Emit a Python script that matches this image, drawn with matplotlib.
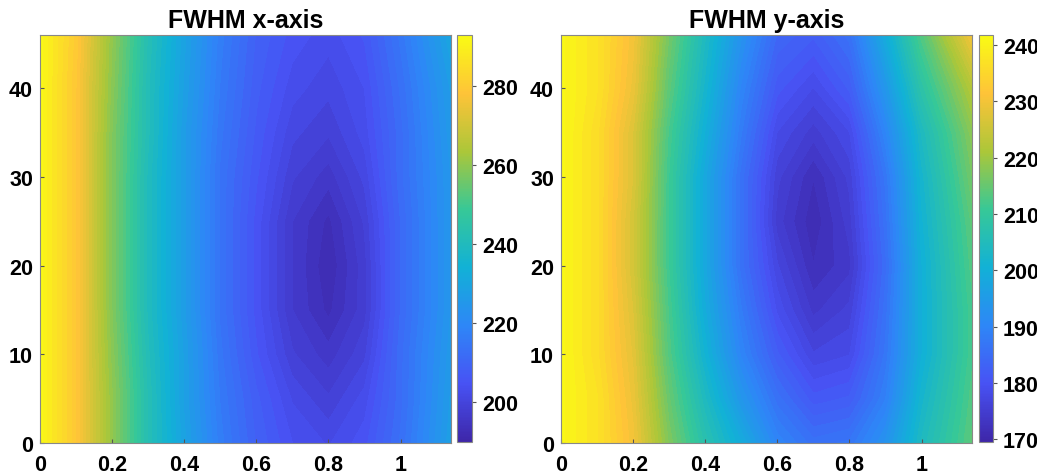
import matplotlib

matplotlib.use("Agg")

import matplotlib.pyplot as plt
import numpy as np
from matplotlib.cm import ScalarMappable
from matplotlib.colors import LinearSegmentedColormap, Normalize

# grid coordinates
x_pos = [0, 0.1, 0.2, 0.3, 0.4, 0.5, 0.6, 0.7, 0.8, 0.9, 1.0, 1.14]
y_pos = [0, 5, 10, 15, 20, 25, 30, 35, 40, 46]

# FWHM along x, one row per y position
fwhm_x = [
    [292, 279, 260, 242, 229, 217, 209, 204, 202, 205, 213, 228],
    [292, 279, 260, 242, 228, 216, 208, 202, 199, 203, 212, 227],
    [292, 279, 259, 241, 228, 215, 206, 199, 196, 200, 212, 226],
    [292, 279, 258, 240, 227, 214, 205, 197, 193, 198, 211, 225],
    [292, 279, 258, 240, 227, 214, 205, 197, 192, 198, 211, 225],
    [292, 279, 258, 240, 227, 214, 205, 197, 193, 199, 211, 225],
    [292, 279, 258, 240, 227, 214, 206, 199, 196, 201, 212, 225],
    [292, 279, 258, 241, 227, 215, 207, 201, 199, 203, 212, 226],
    [292, 279, 259, 241, 228, 216, 208, 203, 201, 204, 213, 227],
    [292, 280, 260, 242, 229, 217, 209, 205, 203, 206, 215, 230],
]

# FWHM along y
fwhm_y = [
    [241, 237, 230, 217, 207, 199, 190, 186, 187, 193, 204, 214],
    [241, 237, 229, 215, 204, 194, 186, 181, 182, 189, 202, 213],
    [241, 236, 228, 213, 201, 190, 182, 177, 178, 187, 200, 212],
    [241, 236, 227, 212, 199, 188, 179, 174, 176, 186, 200, 212],
    [241, 236, 226, 211, 198, 186, 177, 172, 174, 185, 200, 213],
    [241, 236, 226, 211, 198, 186, 175, 171, 175, 186, 201, 214],
    [241, 236, 227, 211, 198, 186, 176, 172, 176, 187, 202, 216],
    [241, 236, 227, 212, 200, 188, 178, 175, 178, 190, 204, 218],
    [241, 237, 229, 214, 202, 190, 181, 178, 182, 194, 208, 222],
    [241, 237, 230, 216, 204, 193, 184, 182, 186, 199, 213, 230],
]

x_clim = (190, 293)
y_clim = (169.5, 241.8)
x_cticks = [200, 220, 240, 260, 280]
y_cticks = [170, 180, 190, 200, 210, 220, 230, 240]

# MATLAB parula, approximated from 8 samples
parula = LinearSegmentedColormap.from_list("parula", [
    (0.2422, 0.1504, 0.6603),
    (0.2810, 0.3228, 0.9579),
    (0.1786, 0.5289, 0.9682),
    (0.0689, 0.6948, 0.8394),
    (0.2161, 0.7843, 0.5923),
    (0.6720, 0.7793, 0.2227),
    (0.9970, 0.7659, 0.2199),
    (0.9769, 0.9839, 0.0805),
])

plt.rcParams["font.family"] = "Liberation Sans"
plt.rcParams["font.weight"] = "bold"

fig = plt.figure(figsize=(10.37, 4.77), dpi=100)

panels = [
    ("FWHM x-axis", fwhm_x, x_clim, x_cticks, [0.0386, 0.0692, 0.3963, 0.8553], [0.4407, 0.0713, 0.0145, 0.8532]),
    ("FWHM y-axis", fwhm_y, y_clim, y_cticks, [0.5410, 0.0692, 0.3963, 0.8553], [0.9441, 0.0713, 0.0135, 0.8532]),
]

X, Y = np.meshgrid(x_pos, y_pos)
for title, values, clim, cticks, ax_rect, cb_rect in panels:
    ax = fig.add_axes(ax_rect)
    levels = np.linspace(clim[0], clim[1], 60)
    ax.contourf(X, Y, np.array(values, dtype=float), levels=levels,
                cmap=parula, vmin=clim[0], vmax=clim[1], extend="both")
    ax.set_xlim(0, 1.14)
    ax.set_ylim(0, 46)
    ax.set_xticks([0, 0.2, 0.4, 0.6, 0.8, 1])
    ax.set_xticklabels(["0", "0.2", "0.4", "0.6", "0.8", "1"])
    ax.set_yticks([0, 10, 20, 30, 40])
    ax.tick_params(labelsize=15.5, direction="in", length=3, color="#555555")
    ax.tick_params(axis="x", pad=8)
    ax.tick_params(axis="y", pad=5)
    for spine in ax.spines.values():
        spine.set_color("#888888")
        spine.set_linewidth(0.8)
    ax.set_title(title, fontsize=18, fontweight="bold", pad=6)

    cax = fig.add_axes(cb_rect)
    sm = ScalarMappable(norm=Normalize(*clim), cmap=parula)
    cb = fig.colorbar(sm, cax=cax, ticks=cticks)
    cb.ax.tick_params(labelsize=15.5, length=3, color="#555555", pad=4)
    cb.outline.set_edgecolor("#888888")
    cb.outline.set_linewidth(0.8)

fig.savefig("out.png", dpi=100)
